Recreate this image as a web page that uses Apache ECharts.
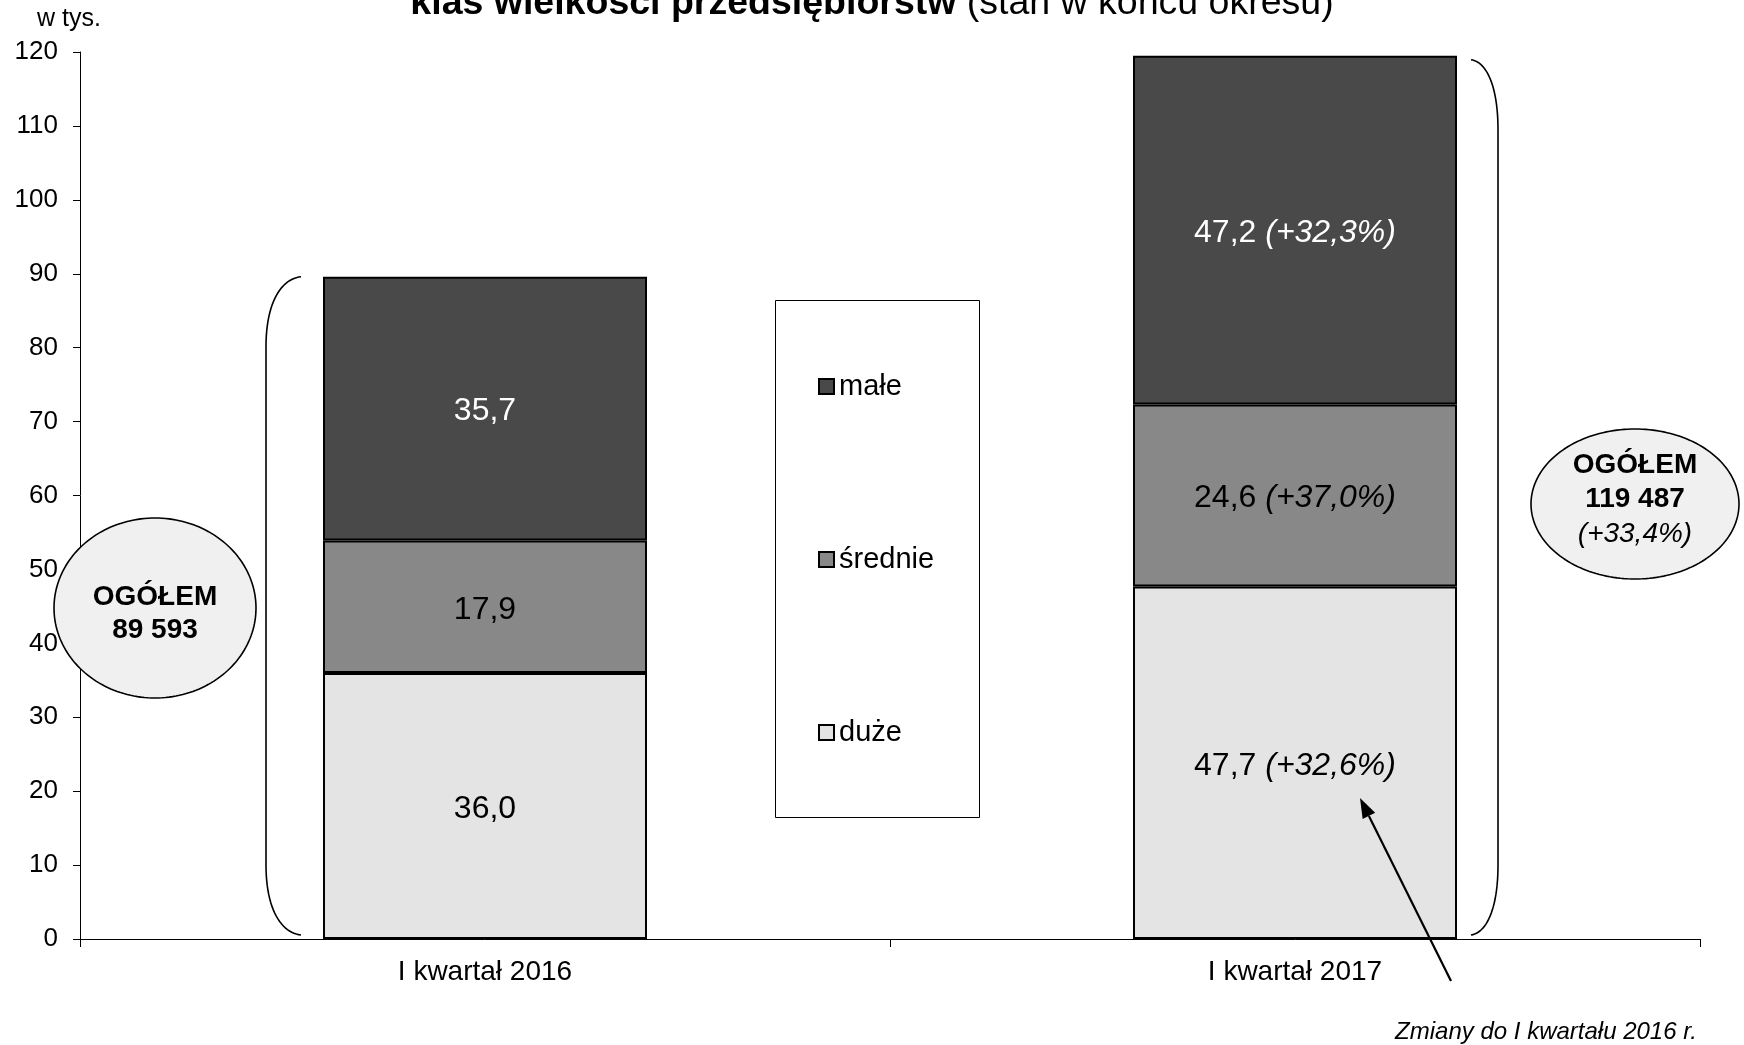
<!DOCTYPE html>
<html>
<head>
<meta charset="utf-8">
<script src="https://cdn.jsdelivr.net/npm/echarts@6/dist/echarts.min.js"></script>
<style>
html,body{margin:0;padding:0;background:#fff;}
#c{width:1744px;height:1045px;}
</style>
</head>
<body>
<div id="c"></div>
<script>
// ---- data ----
const categories = ['I kwartał 2016', 'I kwartał 2017'];
const duze = [36.0, 47.7];
const srednie = [17.9, 24.6];
const male = [35.7, 47.2];
const duzeChange = [null, '+32,6%'];
const srednieChange = [null, '+37,0%'];
const maleChange = [null, '+32,3%'];
const totalsText = ['89 593', '119 487'];
const totalChangeText = [null, '(+33,4%)'];
const seriesNames = ['duże', 'średnie', 'małe'];
const legendOrder = ['małe', 'średnie', 'duże'];
const titleBold = 'klas wielkości przedsiębiorstw';
const titleNormal = ' (stan w końcu okresu)';
const unitLabel = 'w tys.';
const footnote = 'Zmiany do I kwartału 2016 r.';

const FONT = 'Liberation Sans, Arial, sans-serif';
const fmt = v => v.toFixed(1).replace('.', ',');

function mkLabel(changes, color) {
  return {
    show: true,
    position: 'inside',
    offset: [0, 3],
    formatter: p => {
      const ch = changes[p.dataIndex];
      return '{v|' + fmt(p.value) + '}' + (ch ? '{i| (' + ch + ')}' : '');
    },
    rich: {
      v: {fontSize: 32, color: color, fontFamily: FONT},
      i: {fontSize: 32, color: color, fontStyle: 'italic', fontFamily: FONT}
    }
  };
}

const barStyle = c => ({color: c, borderColor: '#000', borderWidth: 2});

const chart = echarts.init(document.getElementById('c'), null, {renderer: 'canvas'});
const option = {
  animation: false,
  backgroundColor: '#fff',
  textStyle: {fontFamily: FONT},
  title: {
    text: '{b|' + titleBold + '}{n|' + titleNormal + '}',
    left: 'center',
    top: -21,
    textStyle: {
      rich: {
        b: {fontSize: 37.5, fontWeight: 'bold', color: '#000', fontFamily: FONT, lineHeight: 40},
        n: {fontSize: 37.5, fontWeight: 'normal', color: '#000', fontFamily: FONT, lineHeight: 40}
      }
    }
  },
  grid: {left: 80, right: 44, top: 52, bottom: 106, containLabel: false},
  legend: {
    data: legendOrder,
    orient: 'vertical',
    left: 818,
    top: 372,
    itemGap: 144,
    itemWidth: 15,
    itemHeight: 15,
    icon: 'rect',
    padding: 0,
    itemStyle: {borderColor: '#000', borderWidth: 2},
    textStyle: {fontSize: 29, color: '#000', fontFamily: FONT},
    z: 10
  },
  xAxis: {
    type: 'category',
    data: categories,
    axisLine: {lineStyle: {color: '#000', width: 1}},
    axisTick: {show: true, length: 8, lineStyle: {color: '#000'}},
    axisLabel: {fontSize: 28, color: '#000', margin: 19, fontFamily: FONT}
  },
  yAxis: {
    type: 'value',
    min: 0,
    max: 120,
    interval: 10,
    name: unitLabel,
    nameLocation: 'end',
    nameGap: 20,
    nameTextStyle: {fontSize: 25, color: '#000', align: 'center', padding: [0, 22, 0, 0], fontFamily: FONT},
    splitLine: {show: false},
    axisLine: {show: true, lineStyle: {color: '#000', width: 1}},
    axisTick: {show: true, length: 7, lineStyle: {color: '#000'}},
    axisLabel: {fontSize: 26, color: '#000', margin: 22, fontFamily: FONT, padding: [4, 0, 0, 0]}
  },
  series: [
    {name: seriesNames[0], type: 'bar', stack: 'a', barWidth: '40%', data: duze,
     itemStyle: barStyle('#e4e4e4'), label: mkLabel(duzeChange, '#000')},
    {name: seriesNames[1], type: 'bar', stack: 'a', barWidth: '40%', data: srednie,
     itemStyle: barStyle('#888888'), label: mkLabel(srednieChange, '#000')},
    {name: seriesNames[2], type: 'bar', stack: 'a', barWidth: '40%', data: male,
     itemStyle: barStyle('#494949'), label: mkLabel(maleChange, '#fff')}
  ]
};
chart.setOption(option);

// ---- annotations positioned from the axes ----
const px = (i, v) => chart.convertToPixel({gridIndex: 0}, [i, v]);
const totals = categories.map((_, i) => duze[i] + srednie[i] + male[i]);
const catW = px(1, 0)[0] - px(0, 0)[0];
const barW = catW * 0.4;
const y0 = px(0, 0)[1];

function cubic(p0, p1, p2, p3, n) {
  const out = [];
  for (let k = 0; k <= n; k++) {
    const t = k / n, u = 1 - t;
    out.push([
      u*u*u*p0[0] + 3*u*u*t*p1[0] + 3*u*t*t*p2[0] + t*t*t*p3[0],
      u*u*u*p0[1] + 3*u*u*t*p1[1] + 3*u*t*t*p2[1] + t*t*t*p3[1]
    ]);
  }
  return out;
}
function bracePoints(tipX, vx, topY, botY) {
  const d = vx - tipX;
  const top = cubic([tipX, topY], [vx - d * 0.45, topY + 2], [vx, topY + 25], [vx, topY + 70], 24);
  const bot = cubic([vx, botY - 70], [vx, botY - 25], [vx - d * 0.45, botY - 2], [tipX, botY], 24);
  return top.concat(bot);
}
function ellipsePoints(cx, cy, rx, ry) {
  const pts = [];
  for (let k = 0; k < 180; k++) {
    const a = k / 180 * Math.PI * 2;
    pts.push([cx + rx * Math.cos(a), cy + ry * Math.sin(a)]);
  }
  return pts;
}

const leftBarL = px(0, 0)[0] - barW / 2;
const rightBarR = px(1, 0)[0] + barW / 2;
const topL = px(0, totals[0])[1];
const topR = px(1, totals[1])[1];

const els = [];
els.push({type: 'rect', z: 1, shape: {x: 775.5, y: 300.5, width: 204, height: 517},
  style: {fill: '#fff', stroke: '#000', lineWidth: 1}});
els.push({type: 'polyline', z: 50, shape: {points: bracePoints(leftBarL - 22, leftBarL - 57, topL, y0 - 4)},
  style: {fill: null, stroke: '#000', lineWidth: 1.6}});
els.push({type: 'polyline', z: 50, shape: {points: bracePoints(rightBarR + 14, rightBarR + 41, topR + 4, y0 - 4)},
  style: {fill: null, stroke: '#000', lineWidth: 1.6}});
els.push({type: 'polygon', z: 60, shape: {points: ellipsePoints(155, 608, 101, 90)},
  style: {fill: '#f0f0f0', stroke: '#000', lineWidth: 1.6}});
els.push({type: 'polygon', z: 60, shape: {points: ellipsePoints(1635, 504, 104, 75)},
  style: {fill: '#f0f0f0', stroke: '#000', lineWidth: 1.6}});
const tx = (text, x, y, opts) => ({type: 'text', z: 70,
  style: Object.assign({text: text, x: x, y: y, align: 'center', verticalAlign: 'middle',
    fontSize: 28, fontWeight: 'bold', fontFamily: FONT, fill: '#000'}, opts || {})});
els.push(tx('OGÓŁEM', 155, 597));
els.push(tx(totalsText[0], 155, 630));
els.push(tx('OGÓŁEM', 1635, 465));
els.push(tx(totalsText[1], 1635, 499));
els.push(tx(totalChangeText[1], 1635, 534, {fontWeight: 'normal', fontStyle: 'italic', fontSize: 28}));
const head = [1360, 798], tail = [1451, 981];
const ang = Math.atan2(head[1] - tail[1], head[0] - tail[0]);
const hl = 20, hw = 7;
const bx = head[0] - hl * Math.cos(ang), by = head[1] - hl * Math.sin(ang);
els.push({type: 'line', z: 80, shape: {x1: tail[0], y1: tail[1], x2: bx, y2: by},
  style: {stroke: '#000', lineWidth: 2.2}});
els.push({type: 'polygon', z: 80, shape: {points: [head,
  [bx + hw * Math.sin(ang), by - hw * Math.cos(ang)],
  [bx - hw * Math.sin(ang), by + hw * Math.cos(ang)]]}, style: {fill: '#000'}});
els.push({type: 'text', z: 80, style: {text: footnote, x: 1697, y: 1032, align: 'right', verticalAlign: 'middle',
  fontSize: 24, fontStyle: 'italic', fontFamily: FONT, fill: '#000'}});

chart.setOption({graphic: {elements: els}});
</script>
</body>
</html>
